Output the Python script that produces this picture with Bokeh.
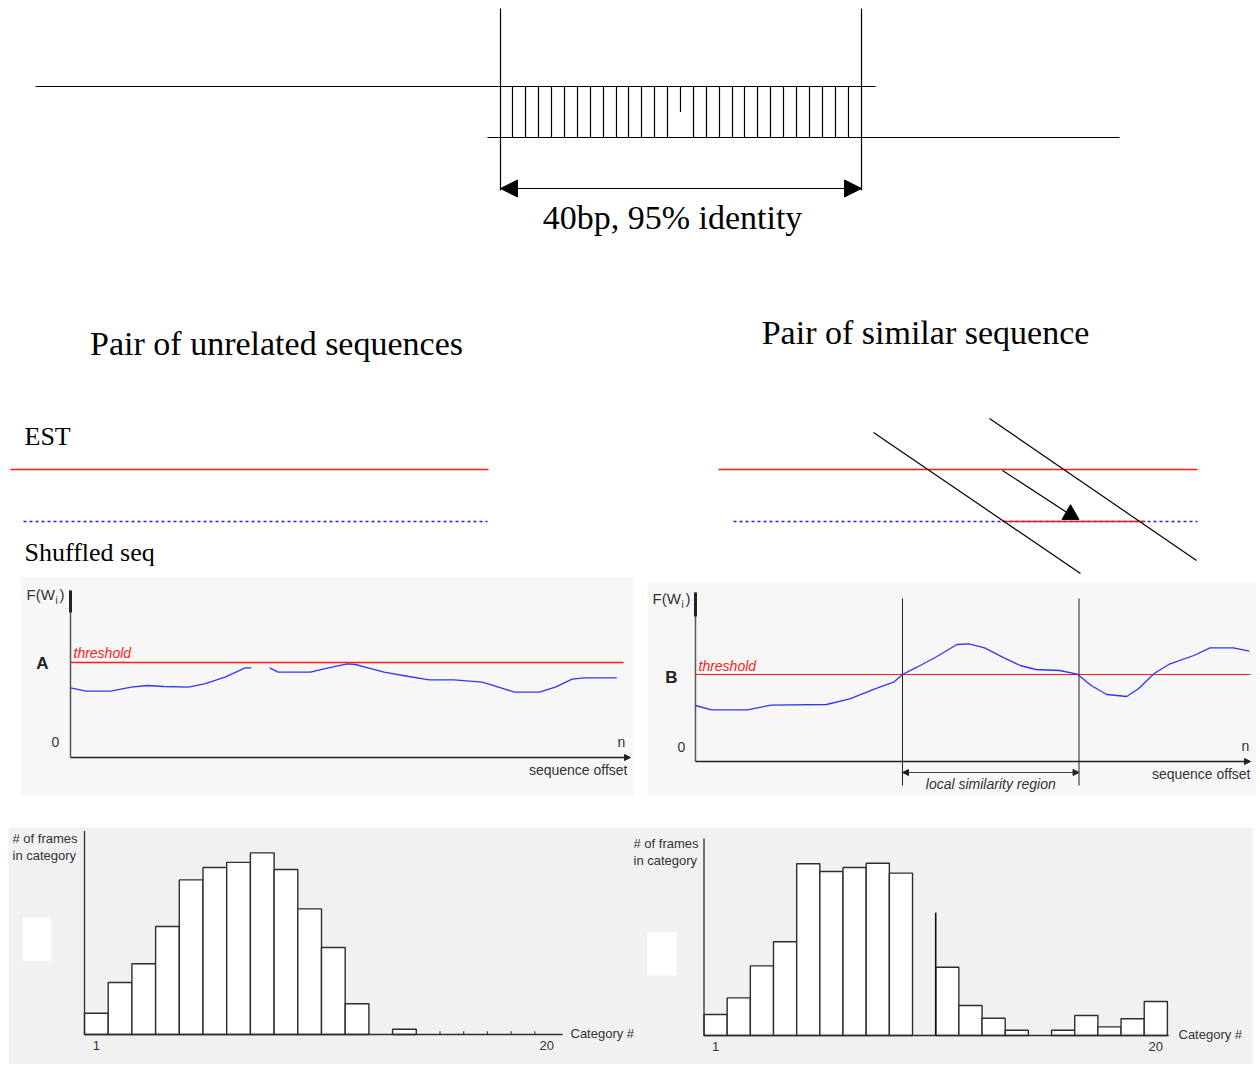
import numpy as np
from bokeh.plotting import figure
from bokeh.models import Range1d, Arrow, NormalHead
from bokeh.embed import file_html
from bokeh.resources import INLINE
from bokeh.core.properties import value

NaN = float("nan")

# ---------------- data ----------------
alignment_cols = 28            # aligned columns spanned by the hatch
mismatch_cols = [14]           # column drawn as a mismatch (short tick)
alignment_label = "40bp, 95% identity"

title_left = "Pair of unrelated sequences"
title_right = "Pair of similar sequence"
seq_label_top = "EST"
seq_label_bottom = "Shuffled seq"

# Panel A: unrelated pair, window score F(W_i) vs sequence offset (%)
offset_a = [0, 2.8, 7.2, 10.9, 13.8, 16.7, 21.1, 24.0, 27.7, 31.3, 32.4, NaN,
            35.7, 37.2, 43.0, 46.0, 49.6, 51.1, 53.3, 56.2, 60.6, 64.3, 68.7,
            73.8, 76.7, 79.6, 84.0, 86.9, 89.9, 92.1, 97.9]
score_a = [69.7, 66.3, 66.3, 70.3, 72.0, 71.0, 70.3, 73.7, 80.3, 89.7, 89.7, NaN,
           89.7, 85.3, 85.3, 89.3, 93.7, 93.0, 89.7, 85.3, 81.0, 77.7, 77.7,
           75.3, 70.3, 65.3, 65.3, 70.3, 78.3, 79.7, 79.7]
threshold_a = 95

# Panel B: similar pair
offset_b = [0, 2.9, 9.3, 13.6, 23.6, 27.8, 32.8, 35.7, 37.3, 39.9, 43.5, 47.1,
            49.2, 52.1, 55.6, 58.5, 61.3, 65.6, 68.8, 71.3, 74.1, 77.7, 79.8,
            82.7, 85.5, 89.8, 92.7, 96.9, 99.8]
score_b = [56.0, 51.7, 51.7, 56.3, 57.0, 62.7, 73.7, 79.3, 87.0, 94.3, 105.0, 117.0,
           117.7, 113.7, 103.7, 96.0, 92.0, 91.0, 87.3, 76.0, 67.0, 65.0, 72.7,
           88.3, 97.7, 106.0, 113.7, 113.7, 110.3]
threshold_b = 87
region_b = [37.3, 69.1]        # local similarity region (offsets)

# Histograms: # of frames in each category 1..20
categories = list(range(1, 21))
frames_unrelated = [11.8, 28.9, 39.3, 60.0, 85.9, 92.8, 95.6, 100.9, 91.7, 69.8,
                    48.3, 17.1, 0, 2.9, 0, 0, 0, 0, 0, 0]
frames_similar = [11.7, 20.9, 38.7, 52.1, 95.4, 91.1, 93.3, 95.7, 90.2, 68.3,
                  37.9, 16.7, 9.6, 2.9, 0, 2.9, 11.1, 4.8, 9.3, 18.9]
similar_open_bars = [10]       # bar drawn only by its right edge in the source
category_tick_labels = {1: "1", 20: "20"}
empty_tick_edges = [15.5, 16.5, 17.5, 18.5, 19.5]

# ---------------- figure ----------------
W, H = 1256, 1064
p = figure(width=W, height=H, x_range=Range1d(0, W), y_range=Range1d(H, 0),
           output_backend="svg", toolbar_location=None,
           x_axis_type=None, y_axis_type=None, min_border=0,
           outline_line_color=None, background_fill_color="white",
           border_fill_color="white")

INK = "#222222"
GREY_TXT = "#333333"
BLUE = "#3535f5"
RED = "#ff1a1a"


def txt(tgt, x, y, s, size, font="Liberation Sans", color=GREY_TXT, align="left",
        baseline="middle", style="normal"):
    tgt.text(x=[x], y=[y], text=[s], text_font=value(font), text_font_size=f"{size}px",
             text_color=color, text_align=align, text_baseline=baseline,
             text_font_style=style)


def sub(xs, ys, xt, yt):
    return p.subplot(x_source=Range1d(*xs), y_source=Range1d(*ys),
                     x_target=Range1d(*xt), y_target=Range1d(*yt))


# ---------------- top alignment diagram ----------------
AX0, AX1 = 500, 861
UP_Y, LO_Y = 86, 137
p.segment(x0=[35], y0=[UP_Y], x1=[875], y1=[UP_Y], line_color="black", line_width=1.2)
p.segment(x0=[487], y0=[LO_Y], x1=[1119], y1=[LO_Y], line_color="black", line_width=1.2)
aln = sub((0, alignment_cols), (0, 1), (AX0, AX1), (LO_Y, UP_Y))
cols = np.arange(1, alignment_cols)
bottoms = [0.5 if c in mismatch_cols else 0.0 for c in cols]
aln.segment(x0=cols, y0=[1.0] * len(cols), x1=cols, y1=bottoms, line_color="black", line_width=1.2)
p.segment(x0=[AX0, AX1], y0=[8, 8], x1=[AX0, AX1], y1=[190, 190], line_color="black", line_width=1.2)
p.add_layout(Arrow(x_start=AX0, y_start=188, x_end=AX1, y_end=188,
                   start=NormalHead(size=17, fill_color="black", line_color="black"),
                   end=NormalHead(size=17, fill_color="black", line_color="black"),
                   line_color="black", line_width=1.2))
txt(p, 672, 217, alignment_label, 34, font="Liberation Serif", color="black", align="center")

# ---------------- titles and sequence sketches ----------------
txt(p, 276, 343, title_left, 34, font="Liberation Serif", color="black", align="center")
txt(p, 925, 332, title_right, 34, font="Liberation Serif", color="black", align="center")
txt(p, 24, 436, seq_label_top, 26, font="Liberation Serif", color="black")
txt(p, 24, 552, seq_label_bottom, 26, font="Liberation Serif", color="black")

p.segment(x0=[10, 718], y0=[469, 469], x1=[488, 1197], y1=[469, 469], line_color=RED, line_width=1.5)
p.segment(x0=[23, 733], y0=[521, 521], x1=[487, 1197], y1=[521, 521], line_color="#1f1fff",
          line_width=1.3, line_dash="3 3")
p.segment(x0=[1002], y0=[521], x1=[1145], y1=[521], line_color=RED, line_width=1.5)
p.segment(x0=[873, 989], y0=[432, 418], x1=[1080, 1196], y1=[573, 560], line_color="black", line_width=1.2)
p.segment(x0=[1002], y0=[470], x1=[1068], y1=[513], line_color="black", line_width=1.2)
p.scatter(x=[1070], y=[514], marker="triangle", size=17, fill_color="black", line_color="black")

# ---------------- panel A ----------------
p.quad(left=[20], right=[633], top=[576], bottom=[795], fill_color="#f7f7f7", line_color=None)
pa = sub((0, 100), (0, 100), (70, 628), (757, 657))
pa.segment(x0=[0], y0=[0], x1=[0], y1=[167], line_color="#555555", line_width=1.5)
pa.segment(x0=[0], y0=[145], x1=[0], y1=[167], line_color=INK, line_width=3)
p.add_layout(Arrow(x_start=70, y_start=757, x_end=630, y_end=757,
                   end=NormalHead(size=6, fill_color=INK, line_color=INK),
                   line_color=INK, line_width=1.3))
pa.segment(x0=[0], y0=[threshold_a], x1=[99.1], y1=[threshold_a], line_color=RED, line_width=1.6)
pa.line(offset_a, score_a, line_color=BLUE, line_width=1.3)
txt(p, 26, 594, "F(W", 15)
txt(p, 55, 600, "i", 10)
txt(p, 59, 594, ")", 15)
txt(p, 42, 663, "A", 17, color="#222222", align="center", style="bold")
txt(p, 55, 741, "0", 14, align="center")
txt(p, 621, 741, "n", 14, align="center")
txt(p, 627, 769, "sequence offset", 14, align="right")
txt(p, 73, 652, "threshold", 14, color=RED, style="italic")

# ---------------- panel B ----------------
p.quad(left=[647], right=[1260], top=[582], bottom=[796], fill_color="#f7f7f7", line_color=None)
BX0, BX1 = 695, 1250
pb = sub((0, 100), (0, 100), (BX0, BX1), (761, 661))
pb.segment(x0=[0], y0=[0], x1=[0], y1=[169], line_color="#555555", line_width=1.5)
pb.segment(x0=[0], y0=[145], x1=[0], y1=[169], line_color=INK, line_width=3)
p.add_layout(Arrow(x_start=BX0, y_start=761, x_end=BX1, y_end=761,
                   end=NormalHead(size=6, fill_color=INK, line_color=INK),
                   line_color=INK, line_width=1.3))
pb.segment(x0=[0], y0=[threshold_b], x1=[100], y1=[threshold_b], line_color=RED, line_width=1)
pb.segment(x0=region_b, y0=[163, 163], x1=region_b, y1=[-24, -24], line_color=INK, line_width=1)
pb.line(offset_b, score_b, line_color=BLUE, line_width=1.3)
rx = [BX0 + r * (BX1 - BX0) / 100 for r in region_b]
p.add_layout(Arrow(x_start=rx[0], y_start=772, x_end=rx[1], y_end=772,
                   start=NormalHead(size=6, fill_color=INK, line_color=INK),
                   end=NormalHead(size=6, fill_color=INK, line_color=INK),
                   line_color="#444444", line_width=1))
txt(p, 652, 598, "F(W", 15)
txt(p, 681, 604, "i", 10)
txt(p, 685, 598, ")", 15)
txt(p, 671, 677, "B", 17, color="#222222", align="center", style="bold")
txt(p, 681, 746, "0", 14, align="center")
txt(p, 1245, 745, "n", 14, align="center")
txt(p, 1250, 773, "sequence offset", 14, align="right")
txt(p, 698, 665, "threshold", 14, color=RED, style="italic")
txt(p, (rx[0] + rx[1]) / 2, 783, "local similarity region", 14, align="center", style="italic")

# ---------------- histograms ----------------
p.quad(left=[8], right=[1252], top=[827], bottom=[1064], fill_color="#f1f1f1", line_color=None)
p.quad(left=[22, 647], right=[51, 676], top=[917, 932], bottom=[960, 975],
       fill_color="white", line_color=None)

cats = np.array(categories, dtype=float)
BAR_LINE = "#2e2e2e"

ha = sub((0.5, 20.5), (0, 100), (84, 558), (1034, 854))
fu = np.array(frames_unrelated)
m = fu > 0
ha.quad(left=cats[m] - 0.5, right=cats[m] + 0.5, bottom=0, top=fu[m],
        fill_color="white", line_color=BAR_LINE, line_width=1.4)
ha.segment(x0=[0.5], y0=[0], x1=[0.5], y1=[113], line_color=BAR_LINE, line_width=1.3)
ha.segment(x0=[0.5], y0=[0], x1=[20.67], y1=[0], line_color=BAR_LINE, line_width=1.4)
ha.segment(x0=empty_tick_edges, y0=[0] * 5, x1=empty_tick_edges, y1=[1.8] * 5,
           line_color=BAR_LINE, line_width=1)
for c, lab in category_tick_labels.items():
    txt(ha, c, -6, lab, 13, align="center")
txt(p, 12, 838, "# of frames", 13)
txt(p, 12, 855, "in category", 13)
txt(p, 570, 1033, "Category #", 13)

hb = sub((0.5, 20.5), (0, 100), (703.5, 1166.9), (1035, 855))
fs = np.array(frames_similar)
closed = np.array([(v > 0) and (int(c) not in similar_open_bars) for c, v in zip(categories, frames_similar)])
hb.quad(left=cats[closed] - 0.5, right=cats[closed] + 0.5, bottom=0, top=fs[closed],
        fill_color="white", line_color=BAR_LINE, line_width=1.4)
open_x = [c + 0.5 for c in similar_open_bars]
open_top = [frames_similar[c - 1] for c in similar_open_bars]
hb.segment(x0=open_x, y0=[0] * len(open_x), x1=open_x, y1=open_top, line_color="#111111", line_width=1.6)
hb.segment(x0=[0.5], y0=[0], x1=[0.5], y1=[109.4], line_color=BAR_LINE, line_width=1.3)
hb.segment(x0=[0.5], y0=[0], x1=[20.56], y1=[0], line_color=BAR_LINE, line_width=1.4)
for c, lab in category_tick_labels.items():
    txt(hb, c, -6, lab, 13, align="center")
txt(p, 633, 843, "# of frames", 13)
txt(p, 633, 860, "in category", 13)
txt(p, 1178, 1034, "Category #", 13)

open("out.html", "w").write(file_html(p, INLINE))
